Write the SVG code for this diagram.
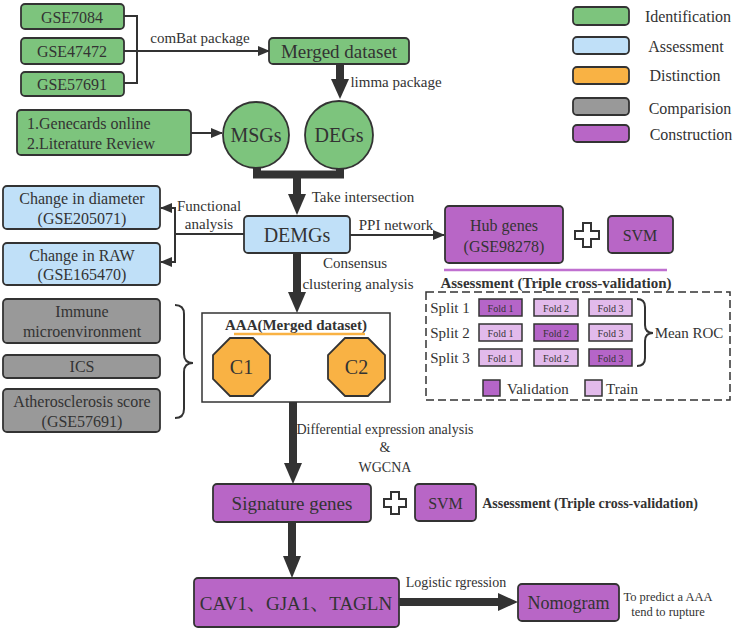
<svg xmlns="http://www.w3.org/2000/svg" width="750" height="630" viewBox="0 0 750 630">
<style>
text{font-family:"Liberation Serif","Times New Roman",Times,serif;fill:#333;text-anchor:middle;dominant-baseline:central}
.cjk{font-family:"Liberation Serif","Times New Roman","Noto Serif CJK SC","Noto Sans CJK SC",serif}
.g{fill:#7dc47d;stroke:#333;stroke-width:1.8}
.b{fill:#c0e0f8;stroke:#333;stroke-width:1.8}
.o{fill:#f9b244;stroke:#333;stroke-width:1.8}
.gr{fill:#999;stroke:#333;stroke-width:1.8}
.p{fill:#b866c6;stroke:#333;stroke-width:1.8}
.fd{fill:#b565c8;stroke:#333;stroke-width:1.5}
.fl{fill:#e2baeb;stroke:#333;stroke-width:1.5}
.thin{fill:none;stroke:#333;stroke-width:2}
.thick{fill:none;stroke:#333;stroke-width:8}
.head{fill:#333}
.plus{fill:#fff;stroke:#333;stroke-width:2}
.bold{font-weight:bold}
</style>
<defs>
<marker id="ah" markerUnits="userSpaceOnUse" markerWidth="12" markerHeight="10" refX="11" refY="5" orient="auto">
<path d="M0,0 L12,5 L0,10 z" fill="#333"/>
</marker>
</defs>

<g id="legend">
<rect class="g" x="573" y="7" width="56" height="18" rx="4"/>
<text x="688" y="16" style="font-size:16px">Identification</text>
<rect class="b" x="573" y="37" width="56" height="17" rx="4"/>
<text x="686" y="46" style="font-size:16px">Assessment</text>
<rect class="o" x="573" y="67" width="56" height="17" rx="4"/>
<text x="685" y="75" style="font-size:16px">Distinction</text>
<rect class="gr" x="573" y="98" width="56" height="17" rx="4"/>
<text x="690" y="108" style="font-size:16px">Comparision</text>
<rect class="p" x="573" y="125" width="56" height="17" rx="4"/>
<text x="691" y="134" style="font-size:16px">Construction</text>
</g>

<g id="connectors">
<path class="thin" d="M124,16 H137 V83 H124 M124,51 H137"/>
<path class="thin" d="M124,51 H269" marker-end="url(#ah)"/>
<text x="200" y="38" style="font-size:15px">comBat package</text>
<line class="thick" x1="340" y1="64" x2="340" y2="81"/>
<polygon class="head" points="331,79 349,79 340,99"/>
<text x="396" y="82" style="font-size:15px">limma package</text>
<path class="thin" d="M191,133 H222" marker-end="url(#ah)"/>
<path class="thick" d="M257,166 V174.5 H340 V166" stroke-linejoin="miter"/>
<line class="thick" x1="297" y1="174" x2="297" y2="196"/>
<polygon class="head" points="288,194 306,194 297,215"/>
<text x="363" y="197" style="font-size:15px">Take intersection</text>
<path class="thin" d="M244,234 H175"/>
<path class="thin" d="M175,208 V262"/>
<path class="thin" d="M176,208 H161" marker-end="url(#ah)"/>
<path class="thin" d="M176,262 H161" marker-end="url(#ah)"/>
<text x="209" y="206" style="font-size:15px">Functional</text>
<text x="209" y="224" style="font-size:15px">analysis</text>
<path class="thin" d="M350,235 H444" marker-end="url(#ah)"/>
<text x="396" y="225" style="font-size:15px">PPI network</text>
<line class="thick" x1="297" y1="253" x2="297" y2="294"/>
<polygon class="head" points="288,292 306,292 297,313"/>
<text x="355" y="263" style="font-size:15px">Consensus</text>
<text x="358" y="284" style="font-size:15px">clustering analysis</text>
<line class="thick" x1="293" y1="402" x2="293" y2="465"/>
<polygon class="head" points="284,463 302,463 293,484"/>
<text x="385" y="429" style="font-size:14px">Differential expression analysis</text>
<text x="385" y="447" style="font-size:14px">&amp;</text>
<text x="385" y="467" style="font-size:14px">WGCNA</text>
<line class="thick" x1="292" y1="522" x2="292" y2="558"/>
<polygon class="head" points="283,556 301,556 292,578"/>
<line class="thick" x1="399" y1="602" x2="500" y2="602"/>
<polygon class="head" points="498,593 498,611 518,602"/>
<text x="456" y="582" style="font-size:14px">Logistic rgression</text>
<path class="thin" d="M175,305 Q184,305 184,314 V354 Q184,363 193,363 Q184,363 184,372 V409 Q184,418 175,418"/>
</g>

<g id="gse7084"><rect class="g" x="21" y="4" width="103" height="25" rx="4"/><text x="72" y="17" style="font-size:16px">GSE7084</text></g>
<g id="gse47472"><rect class="g" x="21" y="38" width="103" height="26" rx="4"/><text x="72" y="51" style="font-size:16px">GSE47472</text></g>
<g id="gse57691"><rect class="g" x="21" y="72" width="103" height="24" rx="4"/><text x="72" y="84" style="font-size:16px">GSE57691</text></g>
<g id="merged"><rect class="g" x="269" y="38" width="140" height="26" rx="4"/><text x="339" y="51" style="font-size:19px">Merged dataset</text></g>
<g id="genecards"><rect class="g" x="17" y="110" width="174" height="45" rx="4"/>
<text x="27" y="123" style="font-size:16px;text-anchor:start">1.Genecards online</text>
<text x="27" y="143" style="font-size:16px;text-anchor:start">2.Literature Review</text></g>
<g id="msgs"><circle class="g" cx="256" cy="135" r="33"/><text x="256" y="135" style="font-size:20px">MSGs</text></g>
<g id="degs"><circle class="g" cx="339" cy="135" r="34"/><text x="339" y="135" style="font-size:20px">DEGs</text></g>

<g id="demgs"><rect class="b" x="244" y="216" width="106" height="37" rx="4"/><text x="297" y="235" style="font-size:20px">DEMGs</text></g>
<g id="diameter"><rect class="b" x="3" y="186" width="157" height="43" rx="4"/>
<text x="82" y="198" style="font-size:16px">Change in diameter</text><text x="82" y="218" style="font-size:16px">(GSE205071)</text></g>
<g id="raw"><rect class="b" x="3" y="243" width="157" height="42" rx="4"/>
<text x="82" y="255" style="font-size:16px">Change in RAW</text><text x="82" y="274" style="font-size:16px">(GSE165470)</text></g>

<g id="hub"><rect class="p" x="445" y="206" width="118" height="57" rx="4"/>
<text x="504" y="225" style="font-size:16px">Hub genes</text><text x="504" y="246" style="font-size:16px">(GSE98278)</text></g>
<g id="plus1"><path class="plus" d="M583,223 h8 v8 h8 v8 h-8 v8 h-8 v-8 h-8 v-8 h8 z"/></g>
<g id="svm1"><rect class="p" x="608" y="216" width="65" height="37" rx="4"/><text x="640" y="235" style="font-size:16px">SVM</text></g>

<g id="assessment1">
<line x1="444" y1="270" x2="667" y2="270" stroke="#c070d0" stroke-width="2.5"/>
<text x="556" y="283" class="bold" style="font-size:15px">Assessment (Triple cross-validation)</text>
<rect x="426" y="292" width="304" height="108" fill="none" stroke="#333" stroke-width="1.5" stroke-dasharray="8,4"/>
<text x="450" y="308" style="font-size:15px">Split 1</text>
<text x="450" y="333" style="font-size:15px">Split 2</text>
<text x="450" y="358" style="font-size:15px">Split 3</text>
<rect class="fd" x="479" y="299" width="43" height="17"/><text x="500.5" y="308" style="font-size:10px">Fold 1</text>
<rect class="fl" x="534" y="299" width="44" height="17"/><text x="556" y="308" style="font-size:10px">Fold 2</text>
<rect class="fl" x="589" y="299" width="43" height="17"/><text x="610.5" y="308" style="font-size:10px">Fold 3</text>
<rect class="fl" x="479" y="324" width="43" height="17"/><text x="500.5" y="333" style="font-size:10px">Fold 1</text>
<rect class="fd" x="534" y="324" width="44" height="17"/><text x="556" y="333" style="font-size:10px">Fold 2</text>
<rect class="fl" x="589" y="324" width="43" height="17"/><text x="610.5" y="333" style="font-size:10px">Fold 3</text>
<rect class="fl" x="479" y="349" width="43" height="17"/><text x="500.5" y="358" style="font-size:10px">Fold 1</text>
<rect class="fl" x="534" y="349" width="44" height="17"/><text x="556" y="358" style="font-size:10px">Fold 2</text>
<rect class="fd" x="589" y="349" width="43" height="17"/><text x="610.5" y="358" style="font-size:10px">Fold 3</text>
<path class="thin" d="M637,299 Q645,299 645,307 V325 Q645,333 653,333 Q645,333 645,341 V358 Q645,366 637,366"/>
<text x="689" y="333" style="font-size:15px">Mean ROC</text>
<rect class="fd" x="483" y="380" width="17" height="16"/>
<text x="507" y="389" style="font-size:15px;text-anchor:start">Validation</text>
<rect class="fl" x="585" y="380" width="17" height="16"/>
<text x="606" y="389" style="font-size:15px;text-anchor:start">Train</text>
</g>

<g id="immune"><rect class="gr" x="3" y="299" width="157" height="44" rx="4"/>
<text x="82" y="311" style="font-size:16px">Immune</text><text x="82" y="331" style="font-size:16px">microenvironment</text></g>
<g id="ics"><rect class="gr" x="3" y="355" width="157" height="23" rx="4"/><text x="82" y="366" style="font-size:16px">ICS</text></g>
<g id="athero"><rect class="gr" x="3" y="389" width="157" height="43" rx="4"/>
<text x="82" y="401" style="font-size:16px">Atherosclerosis score</text><text x="82" y="421" style="font-size:16px">(GSE57691)</text></g>

<g id="aaa"><rect x="202" y="313" width="188" height="89" fill="#fff" stroke="#333" stroke-width="1.5"/>
<text x="296" y="325" class="bold" style="font-size:15px">AAA(Merged dataset)</text>
<line x1="234" y1="334" x2="365" y2="334" stroke="#f9b244" stroke-width="2.5"/></g>
<g id="c1"><polygon class="o" points="230,338 253,338 270,355 270,379 253,396 230,396 213,379 213,355"/><text x="241.5" y="367" style="font-size:20px">C1</text></g>
<g id="c2"><polygon class="o" points="345,338 368,338 385,355 385,379 368,396 345,396 328,379 328,355"/><text x="356.5" y="367" style="font-size:20px">C2</text></g>

<g id="signature"><rect class="p" x="213" y="484" width="158" height="38" rx="4"/><text x="292" y="503" style="font-size:19px">Signature genes</text></g>
<g id="plus2"><path class="plus" d="M391,492 h8 v7 h7 v8 h-7 v7 h-8 v-7 h-7 v-8 h7 z"/></g>
<g id="svm2"><rect class="p" x="415" y="484" width="61" height="37" rx="4"/><text x="445.5" y="503" style="font-size:16px">SVM</text></g>
<text x="590" y="503" class="bold" style="font-size:14px">Assessment (Triple cross-validation)</text>

<g id="cav1"><rect class="p" x="194" y="578" width="205" height="49" rx="4"/><text x="296" y="603" class="cjk" style="font-size:19px">CAV1、GJA1、TAGLN</text></g>
<g id="nomogram"><rect class="p" x="518" y="584" width="101" height="37" rx="4"/><text x="568.5" y="603" style="font-size:18px">Nomogram</text></g>
<text x="668" y="597" style="font-size:12.5px">To predict a AAA</text>
<text x="668" y="612" style="font-size:12.5px">tend to rupture</text>
</svg>
